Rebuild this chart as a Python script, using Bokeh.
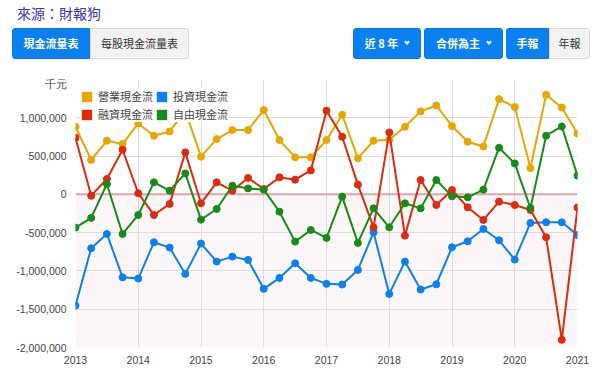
from bokeh.plotting import figure
from bokeh.models import (Range1d, FixedTicker, NumeralTickFormatter, Span, BoxAnnotation,
                          Legend, LegendItem, Div, ColumnDataSource)
from bokeh.layouts import column
from bokeh.embed import file_html
from bokeh.resources import INLINE

# ---- data (千元), quarterly from 2013 to 2021 ----
periods = [2013.00, 2013.25, 2013.50, 2013.75, 2014.00, 2014.25, 2014.50, 2014.75,
           2015.00, 2015.25, 2015.50, 2015.75, 2016.00, 2016.25, 2016.50, 2016.75,
           2017.00, 2017.25, 2017.50, 2017.75, 2018.00, 2018.25, 2018.50, 2018.75,
           2019.00, 2019.25, 2019.50, 2019.75, 2020.00, 2020.25, 2020.50, 2020.75,
           2021.00]
operating = [883000, 449000, 700000, 657000, 926000, 766000, 822000, 1090000,
             492000, 722000, 840000, 840000, 1101000, 709000, 483000, 483000,
             709000, 1040000, 470000, 700000, 713000, 883000, 1083000, 1161000,
             892000, 687000, 626000, 1244000, 1140000, 344000, 1300000, 1135000,
             792000]
investing = [-1452000, -704000, -517000, -1083000, -1100000, -626000, -695000, -1039000,
             -643000, -878000, -813000, -856000, -1234000, -1091000, -900000, -1091000,
             -1169000, -1178000, -987000, -496000, -1300000, -878000, -1243000, -1174000,
             -691000, -613000, -452000, -600000, -852000, -373000, -365000, -365000,
             -530000]
financing = [740000, -17000, 200000, 583000, 13000, -269000, -125000, 548000,
             -117000, 157000, 48000, 214000, 70000, 222000, 192000, 313000,
             1092000, 753000, 127000, -430000, 809000, -539000, 187000, -139000,
             57000, -169000, -334000, -95000, -139000, -204000, -561000, -1900000,
             -173000]
free_cf = [-434000, -308000, 135000, -517000, -269000, 157000, 48000, 274000,
           -330000, -191000, 113000, 78000, 61000, -226000, -617000, -465000,
           -569000, -30000, -634000, -183000, -430000, -117000, -183000, 187000,
           -26000, -39000, 61000, 609000, 404000, -178000, 766000, 887000,
           244000]
series_names = ["營業現金流", "投資現金流", "融資現金流", "自由現金流"]
series_colors = ["#e8a700", "#0b80f2", "#dd2b0c", "#168c16"]
year_ticks = [2013, 2014, 2015, 2016, 2017, 2018, 2019, 2020, 2021]
grid_ticks = [-2000000, -1500000, -1000000, -500000, 0, 500000, 1000000, 1500000]
label_ticks = [-2000000, -1500000, -1000000, -500000, 0, 500000, 1000000]
unit_label = "千元"
unit_tick = 1435000   # where the unit caption sits on the value axis

# ---- header (title + buttons) ----
btn = ("position:absolute;top:28px;height:31px;box-sizing:border-box;display:flex;"
       "align-items:center;justify-content:center;font-family:'Noto Sans CJK TC';"
       "font-size:11px;white-space:nowrap;")
blue = "background:#0b80f0;color:#ffffff;font-weight:bold;border:1px solid #0a78e4;"
gray = "background:#f2f2f2;color:#333333;border:1px solid #dadada;"
chev = ("display:inline-block;width:4px;height:4px;border-right:2px solid #fff;"
        "border-bottom:2px solid #fff;transform:rotate(45deg);margin-left:7px;margin-top:-4px;")
html = f"""
<div style="position:relative;width:600px;height:70px;">
 <div style="position:absolute;left:17px;top:5px;font-family:'Noto Sans CJK TC';font-size:14px;line-height:16px;color:#3a30cc;">來源：財報狗</div>
 <div style="{btn}{blue}left:12px;width:78px;border-radius:3px 0 0 3px;">現金流量表</div>
 <div style="{btn}{gray}left:90px;width:99px;border-radius:0 3px 3px 0;">每股現金流量表</div>
 <div style="{btn}{blue}left:353px;width:68px;border-radius:3px;">近 8 年<span style="{chev}"></span></div>
 <div style="{btn}{blue}left:424px;width:79px;border-radius:3px;">合併為主<span style="{chev}"></span></div>
 <div style="{btn}{blue}left:506px;width:43px;border-radius:3px 0 0 3px;">手報</div>
 <div style="{btn}{gray}left:549px;width:41px;border-radius:0 3px 3px 0;">年報</div>
</div>
"""
header = Div(text=html, width=600, height=70, margin=0)

# ---- chart ----
p = figure(width=600, height=304, output_backend="svg", toolbar_location=None, tools="",
           x_range=Range1d(2013, 2021), y_range=Range1d(-2000000, 1500000),
           min_border_left=75, min_border_right=23, min_border_top=9, min_border_bottom=27,
           margin=0)
p.outline_line_color = None
p.background_fill_color = "#ffffff"
p.border_fill_color = "#ffffff"

p.add_layout(BoxAnnotation(top=0, fill_color="#fdf6f8", fill_alpha=1.0,
                           line_color=None, level="image"))

p.xaxis.ticker = FixedTicker(ticks=year_ticks)
p.yaxis.ticker = FixedTicker(ticks=label_ticks + [unit_tick])
p.xgrid.ticker = FixedTicker(ticks=year_ticks)
p.ygrid.ticker = FixedTicker(ticks=grid_ticks)
p.yaxis.formatter = NumeralTickFormatter(format="0,0")
p.yaxis.major_label_overrides = {unit_tick: unit_label}
for ax in (p.xaxis, p.yaxis):
    ax.axis_line_color = None
    ax.major_tick_line_color = None
    ax.minor_tick_line_color = None
    ax.major_tick_out = 0
    ax.major_tick_in = 0
    ax.major_label_text_font = "Liberation Sans"
    ax.major_label_text_font_size = "10.5px"
    ax.major_label_text_color = "#444444"
p.xaxis.major_label_standoff = 8
p.yaxis.major_label_standoff = 9
for g in (p.xgrid, p.ygrid):
    g.grid_line_color = "#dddddd"
    g.grid_line_width = 1

p.add_layout(Span(location=0, dimension="width", line_color="#e0a4ab",
                  line_width=2, level="underlay"))

proxies = {}
for name, vals, col in zip(series_names, [operating, investing, financing, free_cf], series_colors):
    src = ColumnDataSource(dict(x=periods, y=vals))
    p.line("x", "y", source=src, line_color=col, line_width=2)
    p.scatter("x", "y", source=src, size=7, fill_color=col, line_color=col)
    # zero-size swatch used only by the legend
    proxies[name] = p.quad(left=periods[:1], right=periods[:1], top=[0], bottom=[0],
                           fill_color=col, line_color=None)

order = ["營業現金流", "融資現金流", "投資現金流", "自由現金流"]
legend = Legend(items=[LegendItem(label=n, renderers=[proxies[n]]) for n in order],
                location=(5, 225), ncols=2, orientation="vertical",
                background_fill_color="#ffffff", background_fill_alpha=1.0,
                border_line_color=None, padding=2, margin=0, spacing=2,
                glyph_width=13, glyph_height=13, label_height=14, label_standoff=5,
                label_text_font="Noto Sans CJK TC", label_text_font_size="11px",
                label_text_color="#444444")
p.add_layout(legend)

layout = column(header, p, spacing=0, margin=0)
open("out.html", "w").write(file_html(layout, INLINE))
